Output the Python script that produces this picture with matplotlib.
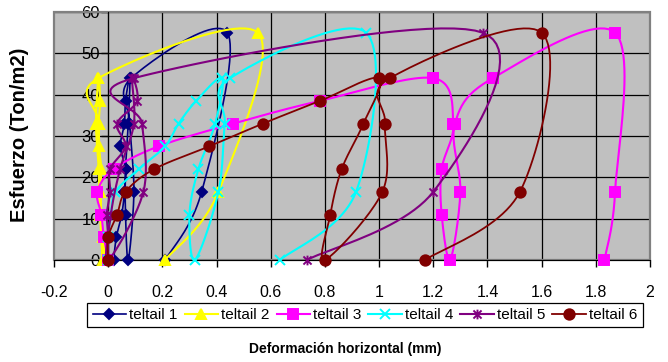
import numpy as np
import matplotlib
matplotlib.use("Agg")
import matplotlib.pyplot as plt
from matplotlib.lines import Line2D
from matplotlib.path import Path
from matplotlib.patches import Rectangle

# stress levels applied in each cycle (Ton/m2)
esfuerzo = [0, 5.5, 11, 16.5, 22, 27.5, 33, 38.5, 44,
            33, 22, 11, 0, 16.5, 33, 44, 55, 16.5, 0]

# horizontal displacement read on each telltail (mm)
teltail_1 = [0.02, 0.03, 0.05, 0.06, 0.064, 0.045, 0.06, 0.064, 0.08,
             0.074, 0.064, 0.064, 0.074, 0.095, 0.08, 0.085, 0.44, 0.345, 0.21]
teltail_2 = [-0.01, -0.02, -0.025, -0.03, -0.025, -0.035, -0.035, -0.03, -0.036,
             -0.045, -0.035, -0.03, -0.02, -0.03, -0.035, -0.036, 0.552, 0.407, 0.21]
teltail_3 = [0.0, -0.016, -0.025, -0.04, 0.02, 0.186, 0.462, 0.782, 1.20,
             1.274, 1.231, 1.231, 1.262, 1.30, 1.28, 1.42, 1.871, 1.871, 1.832]
teltail_4 = [0.0, 0.0, 0.01, 0.027, 0.113, 0.21, 0.26, 0.325, 0.42,
             0.395, 0.333, 0.30, 0.32, 0.407, 0.43, 0.45, 0.952, 0.915, 0.634]
teltail_5 = [0.0, 0.0, -0.005, 0.007, 0.007, 0.064, 0.033, 0.107, 0.088,
             0.095, 0.044, 0.01, 0.0, 0.13, 0.125, 0.095, 1.382, 1.20, 0.733]
teltail_6 = [0.0, 0.0, 0.033, 0.064, 0.17, 0.373, 0.571, 0.782, 1.0,
             0.942, 0.862, 0.82, 0.80, 1.012, 1.022, 1.04, 1.60, 1.52, 1.17]

nombres = ["teltail 1", "teltail 2", "teltail 3", "teltail 4", "teltail 5", "teltail 6"]
xticks = [-0.2, 0, 0.2, 0.4, 0.6, 0.8, 1, 1.2, 1.4, 1.6, 1.8, 2]
xtick_labels = ["-0.2", "0", "0.2", "0.4", "0.6", "0.8", "1", "1.2", "1.4", "1.6", "1.8", "2"]
yticks = [0, 10, 20, 30, 40, 50, 60]

# star marker: an x with a vertical bar through it
star = Path([(-1, -1), (1, 1), (-1, 1), (1, -1), (0, -1.2), (0, 1.2)],
            [Path.MOVETO, Path.LINETO, Path.MOVETO, Path.LINETO, Path.MOVETO, Path.LINETO])

estilos = [
    dict(color="#000080", marker="D", ms=5.5, lw=1.2),
    dict(color="#FFFF00", marker="^", ms=7.5, lw=1.5),
    dict(color="#FF00FF", marker="s", ms=7.5, lw=1.5),
    dict(color="#00FFFF", marker="x", ms=7, lw=1.5),
    dict(color="#800080", marker=star, ms=7, lw=1.5),
    dict(color="#800000", marker="o", ms=7.5, lw=1.3),
]

fuente = ["Liberation Sans", "DejaVu Sans"]


def smooth(xs, ys, n=24):
    # Catmull-Rom style bezier through every point
    p = np.column_stack([xs, ys]).astype(float)
    p = np.vstack([p[0], p, p[-1]])
    t = np.linspace(0, 1, n)[:, None]
    out = []
    for i in range(1, len(p) - 2):
        p0, p1, p2, p3 = p[i - 1], p[i], p[i + 1], p[i + 2]
        c1 = p1 + (p2 - p0) / 6
        c2 = p2 - (p3 - p1) / 6
        seg = ((1 - t) ** 3) * p1 + 3 * ((1 - t) ** 2) * t * c1 + 3 * (1 - t) * t ** 2 * c2 + t ** 3 * p2
        out.append(seg if i == 1 else seg[1:])
    out = np.vstack(out)
    return out[:, 0], out[:, 1]


fig = plt.figure(figsize=(6.68, 3.62), dpi=100)
ax = fig.add_axes([54 / 668, 102 / 362, 596 / 668, 248 / 362])
ax.set_facecolor("#C0C0C0")
ax.set_xlim(-0.2, 2)
ax.set_ylim(0, 60)

for v in yticks[1:]:
    ax.axhline(v, color="black", lw=0.9, zorder=1)
for v in xticks[1:]:
    ax.axvline(v, color="black", lw=0.9, zorder=1)

series = [teltail_1, teltail_2, teltail_3, teltail_4, teltail_5, teltail_6]
handles = []
for k, (xs, st) in enumerate(zip(series, estilos)):
    sx, sy = smooth(xs, esfuerzo)
    ax.plot(sx, sy, color=st["color"], lw=st["lw"], zorder=3 + k, clip_on=False)
    ax.plot(xs, esfuerzo, ls="none", marker=st["marker"], ms=st["ms"],
            color=st["color"], mec=st["color"], mew=1.4, zorder=3 + k, clip_on=False)
    handles.append(Line2D([], [], color=st["color"], lw=st["lw"], marker=st["marker"],
                          ms=st["ms"], mew=1.4))

ax.add_patch(Rectangle((0, 0), 1, 1, transform=ax.transAxes, fill=False,
                       edgecolor="#808080", lw=1.6, zorder=2, clip_on=False))
for s in ["top", "right"]:
    ax.spines[s].set_visible(False)
ax.spines["left"].set_position(("data", 0))
ax.spines["left"].set_zorder(2)
ax.spines["bottom"].set_color("black")

ax.set_xticks(xticks)
ax.set_xticklabels(xtick_labels, family=fuente, fontsize=11.5)
ax.set_yticks(yticks)
ax.set_yticklabels([str(v) for v in yticks], family=fuente, fontsize=12)
ax.tick_params(axis="x", direction="out", length=5, width=1, pad=13)
ax.tick_params(axis="y", direction="out", length=5, width=1, pad=1)

fig.text(20 / 668, 1 - 135 / 362, "Esfuerzo (Ton/m2)", rotation=90, ha="center", va="center",
         family=fuente, fontweight="bold", fontsize=14.5)
fig.text(345 / 668, 1 - 349 / 362, "Deformación horizontal (mm)", ha="center", va="center",
         family=fuente, fontweight="bold", fontsize=10)

leg = fig.legend(handles, nombres, loc="center", bbox_to_anchor=(365 / 668, 1 - 315 / 362),
                 ncol=6, frameon=True, fancybox=False, edgecolor="black", framealpha=1,
                 prop=dict(family=fuente, size=11), handlelength=2.2, handletextpad=0.2,
                 columnspacing=0.45, borderpad=0.35, borderaxespad=0)
leg.get_frame().set_linewidth(0.9)

fig.savefig("out.png", dpi=100)
